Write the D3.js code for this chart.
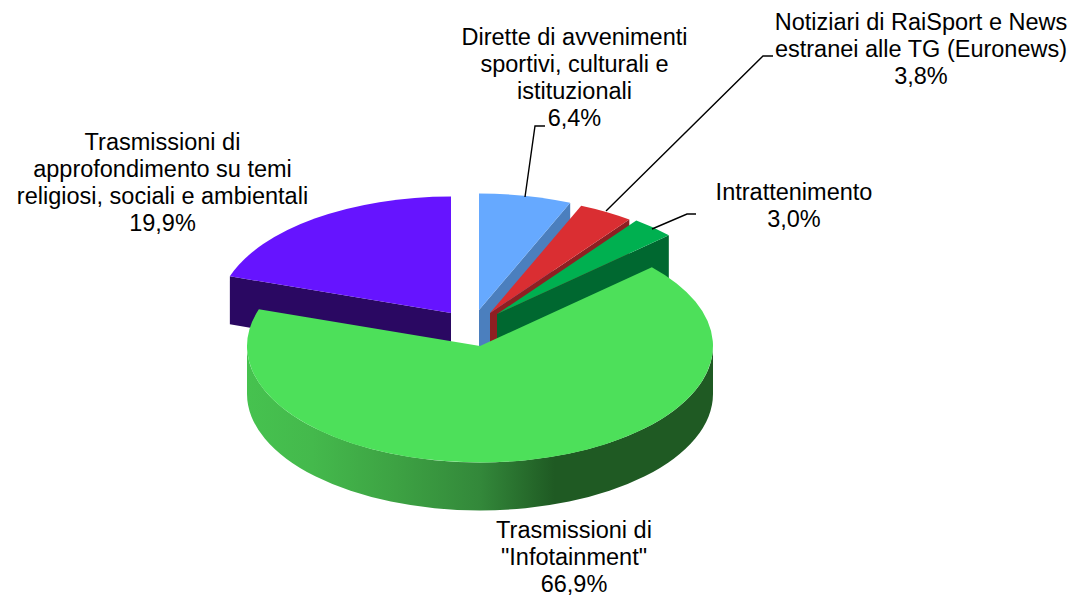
<!DOCTYPE html>
<html>
<head>
<meta charset="utf-8">
<script src="https://cdn.jsdelivr.net/npm/d3@7"></script>
<style>
  html, body { margin: 0; padding: 0; background: #fff; }
  text { font-family: "Liberation Sans", Arial, sans-serif; font-size: 23.5px; fill: #000; }
</style>
</head>
<body>
<div id="pie"></div>
<script>
// data
var categories = [
  "Dirette di avvenimenti sportivi, culturali e istituzionali",
  "Notiziari di RaiSport e News estranei alle TG (Euronews)",
  "Intrattenimento",
  "Trasmissioni di \"Infotainment\"",
  "Trasmissioni di approfondimento su temi religiosi, sociali e ambientali"
]
var values = [6.4, 3.8, 3.0, 66.9, 19.9]
var valueLabels = ["6,4%", "3,8%", "3,0%", "66,9%", "19,9%"]

// the label text broken in lines as in the picture
var labelLines = [
  ["Dirette di avvenimenti", "sportivi, culturali e", "istituzionali"],
  ["Notiziari di RaiSport e News", "estranei alle TG (Euronews)"],
  ["Intrattenimento"],
  ["Trasmissioni di", "\"Infotainment\""],
  ["Trasmissioni di", "approfondimento su temi", "religiosi, sociali e ambientali"]
]

// layout
var width = 1075, height = 596
var rx = 233, ry = 116.5, depth = 48
var lineHeight = 27

// one entry for each slice: top colour, side colour, where the apex of the exploded slice sits
var sliceStyle = [
  {top: "#66a9ff", side: "#4b7fbe", apex: [479, 310]},
  {top: "#da2e32", side: "#8f1f22", apex: [490, 313]},
  {top: "#00b050", side: "#006830", apex: [497, 314]},
  {top: "#4de05a", side: "#1f5a23", apex: [480, 346]},
  {top: "#6614ff", side: "#2a0862", apex: [451, 313]}
]

var labelPos = [
  {x: 574.5, y: 45},
  {x: 921, y: 29.5},
  {x: 794, y: 200},
  {x: 574, y: 538},
  {x: 162.5, y: 150}
]

// leader lines, from the label to the rim
var leaders = [
  [[545, 126], [535, 126], [525, 197]],
  [[773, 56], [763, 56], [606, 211]],
  [[696, 214], [687, 214], [652, 229]]
]

var svg = d3.select("#pie")
  .append("svg")
    .attr("width", width)
    .attr("height", height)
    .style("display", "block")

var defs = svg.append("defs")
var grad = defs.append("linearGradient")
    .attr("id", "rimGradient")
    .attr("gradientUnits", "userSpaceOnUse")
    .attr("x1", 247).attr("x2", 713)
    .attr("y1", 0).attr("y2", 0)
grad.selectAll("stop")
  .data([[0, "#46c24f"], [0.14, "#44b94c"], [0.32, "#3da243"], [0.5, "#33883a"], [0.66, "#1f5a23"], [1, "#1f5a23"]])
  .enter().append("stop")
    .attr("offset", function(d) { return d[0] })
    .attr("stop-color", function(d) { return d[1] })

var pie = d3.pie().sort(null)
var slices = pie(values)

var arc = d3.arc().innerRadius(0).outerRadius(rx)

// point of the ellipse at a pie angle (0 is at 12 o'clock, clockwise)
function rim(apex, a) {
  return [apex[0] + rx * Math.sin(a), apex[1] - ry * Math.cos(a)]
}

// the cut side of a slice, seen along the edge at angle a
function wall(apex, a) {
  var p = rim(apex, a)
  return "M" + apex[0] + "," + apex[1] + "L" + p[0] + "," + p[1] +
    "L" + p[0] + "," + (p[1] + depth) + "L" + apex[0] + "," + (apex[1] + depth) + "Z"
}

// drawn from the back to the front so the big slice covers the others
var order = [4, 0, 1, 2, 3]
order.forEach(function(i) {
  var s = slices[i], st = sliceStyle[i]
  var g = svg.append("g")
  if (i == 3) {
    // front rim of the big slice
    var left = [st.apex[0] - rx, st.apex[1]], right = [st.apex[0] + rx, st.apex[1]]
    g.append("path")
      .attr("fill", "url(#rimGradient)")
      .attr("d", "M" + left + "L" + left[0] + "," + (left[1] + depth) +
        "A" + rx + "," + ry + " 0 0 0 " + right[0] + "," + (right[1] + depth) +
        "L" + right + "A" + rx + "," + ry + " 0 0 1 " + left + "Z")
  } else {
    var a = i == 4 ? s.startAngle : s.endAngle
    g.append("path")
      .attr("fill", st.side)
      .attr("d", wall(st.apex, a))
  }
  g.append("path")
    .attr("fill", st.top)
    .attr("transform", "translate(" + st.apex + ") scale(1," + (ry / rx) + ")")
    .attr("d", arc(s))
})

var line = d3.line()
svg.selectAll(".leader")
  .data(leaders)
  .enter().append("path")
    .attr("class", "leader")
    .attr("fill", "none")
    .attr("stroke", "#000")
    .attr("stroke-width", 1.4)
    .attr("d", line)

labelLines.forEach(function(lines, i) {
  var t = svg.append("text")
    .attr("text-anchor", "middle")
    .attr("x", labelPos[i].x)
    .attr("y", labelPos[i].y)
  lines.concat([valueLabels[i]]).forEach(function(l, k) {
    t.append("tspan")
      .attr("x", labelPos[i].x)
      .attr("dy", k == 0 ? 0 : lineHeight)
      .text(l)
  })
})
</script>
</body>
</html>
